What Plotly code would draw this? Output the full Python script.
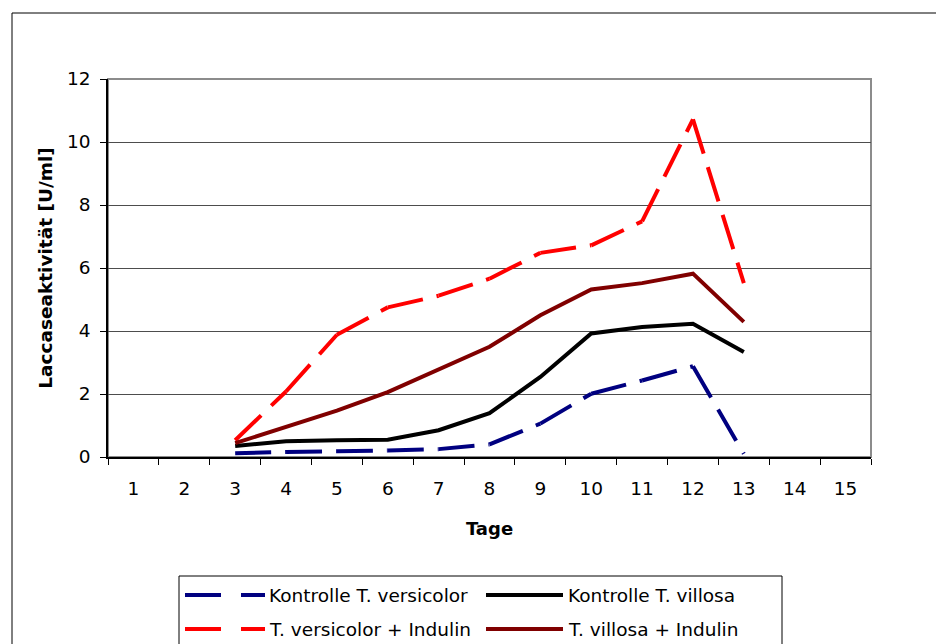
import plotly.graph_objects as go

# ---------------- data ----------------
tage = [str(i) for i in range(1, 16)]
y_ticks = [0, 2, 4, 6, 8, 10, 12]

names = ["Kontrolle T. versicolor", "Kontrolle T. villosa",
         "T. versicolor + Indulin", "T. villosa + Indulin"]

kontrolle_versicolor = [None, None, 0.12, 0.16, 0.18, 0.21, 0.25, 0.40, 1.06, 2.01, 2.43, 2.88, 0.10, None, None]
kontrolle_villosa    = [None, None, 0.35, 0.50, 0.53, 0.55, 0.85, 1.39, 2.54, 3.92, 4.13, 4.23, 3.33, None, None]
versicolor_indulin   = [None, None, 0.53, 2.08, 3.88, 4.75, 5.12, 5.66, 6.48, 6.72, 7.48, 10.72, 5.52, None, None]
villosa_indulin      = [None, None, 0.44, 0.96, 1.47, 2.06, 2.79, 3.50, 4.50, 5.32, 5.52, 5.82, 4.29, None, None]

series = [kontrolle_versicolor, kontrolle_villosa, versicolor_indulin, villosa_indulin]
colors = ["#000080", "#000000", "#FF0000", "#800000"]
dashed = [True, False, True, False]

# ---------------- layout geometry ----------------
W, H = 936, 644
L, R, T, B = 108, 65, 79, 187
pw, ph = W - L - R, H - T - B
FONT = "DejaVu Sans"
DASH = "36px,14px"
LW = 4


def px_x(px):
    return (px - L) / pw


def px_y(py):
    return (H - B - py) / ph


fig = go.Figure()

for vals, col, dsh, name in zip(series, colors, dashed, names):
    if dsh:
        # Excel restarts the dash pattern at each vertex
        for i in range(len(vals) - 1):
            if vals[i] is None or vals[i + 1] is None:
                continue
            fig.add_trace(go.Scatter(x=[tage[i], tage[i + 1]], y=[vals[i], vals[i + 1]],
                                     mode="lines", name=name, showlegend=False,
                                     line=dict(color=col, width=LW, dash=DASH),
                                     hoverinfo="skip"))
    else:
        fig.add_trace(go.Scatter(x=tage, y=vals, mode="lines", name=name, showlegend=False,
                                 line=dict(color=col, width=LW), connectgaps=False))

shapes = []
# outer chart border (extends past right/bottom edges)
shapes.append(dict(type="rect", xref="paper", yref="paper",
                   x0=px_x(12), x1=px_x(960), y0=px_y(680), y1=px_y(13),
                   line=dict(color="#000000", width=1), layer="below"))
# plot area border
shapes.append(dict(type="rect", xref="paper", yref="paper",
                   x0=0, x1=1, y0=0, y1=1,
                   line=dict(color="#8c8c8c", width=2), layer="below"))

# legend box
lx0, lx1, ly0 = 179, 782, 576
shapes.append(dict(type="rect", xref="paper", yref="paper",
                   x0=px_x(lx0), x1=px_x(lx1), y0=px_y(680), y1=px_y(ly0),
                   line=dict(color="#000000", width=1), fillcolor="white", layer="above"))

annotations = []
legend_pos = [(185, 595), (486, 595), (185, 629), (486, 629)]
for (sx, sy), name, col, dsh in zip(legend_pos, names, colors, dashed):
    if dsh:
        shapes.append(dict(type="line", xref="paper", yref="paper",
                           x0=px_x(sx), x1=px_x(sx + 36), y0=px_y(sy), y1=px_y(sy),
                           line=dict(color=col, width=LW)))
        shapes.append(dict(type="line", xref="paper", yref="paper",
                           x0=px_x(sx + 56), x1=px_x(sx + 80), y0=px_y(sy), y1=px_y(sy),
                           line=dict(color=col, width=LW)))
        tx = sx + 82
    else:
        shapes.append(dict(type="line", xref="paper", yref="paper",
                           x0=px_x(sx), x1=px_x(sx + 77), y0=px_y(sy), y1=px_y(sy),
                           line=dict(color=col, width=LW)))
        tx = sx + 80
    annotations.append(dict(text=name, xref="paper", yref="paper",
                            x=px_x(tx), y=px_y(sy), xanchor="left", yanchor="middle",
                            showarrow=False, font=dict(family=FONT, size=18.5, color="#000000")))

fig.update_layout(
    width=W, height=H,
    margin=dict(l=L, r=R, t=T, b=B),
    paper_bgcolor="white", plot_bgcolor="white",
    showlegend=False,
    shapes=shapes, annotations=annotations,
    font=dict(family=FONT, size=18.5, color="#000000"),
    xaxis=dict(type="category", categoryorder="array", categoryarray=tage,
               range=[-0.5, 14.5], tickson="boundaries", ticks="outside", ticklen=6,
               tickcolor="#000000", showline=True, linecolor="#000000", linewidth=1.5,
               showgrid=False, zeroline=False, ticklabelstandoff=14,
               title=dict(text="<b>Tage</b>", font=dict(family=FONT, size=18), standoff=24)),
    yaxis=dict(range=[0, 12], tickvals=y_ticks, ticktext=[str(v) for v in y_ticks],
               ticks="outside", ticklen=6, tickcolor="#000000",
               showline=True, linecolor="#000000", linewidth=1.5,
               showgrid=True, gridcolor="#4d4d4d", gridwidth=1, zeroline=False,
               ticklabelstandoff=6,
               title=dict(text="<b>Laccaseaktivität [U/ml]</b>", font=dict(family=FONT, size=18.5),
                          standoff=10)),
)

fig.write_html("out.html")
